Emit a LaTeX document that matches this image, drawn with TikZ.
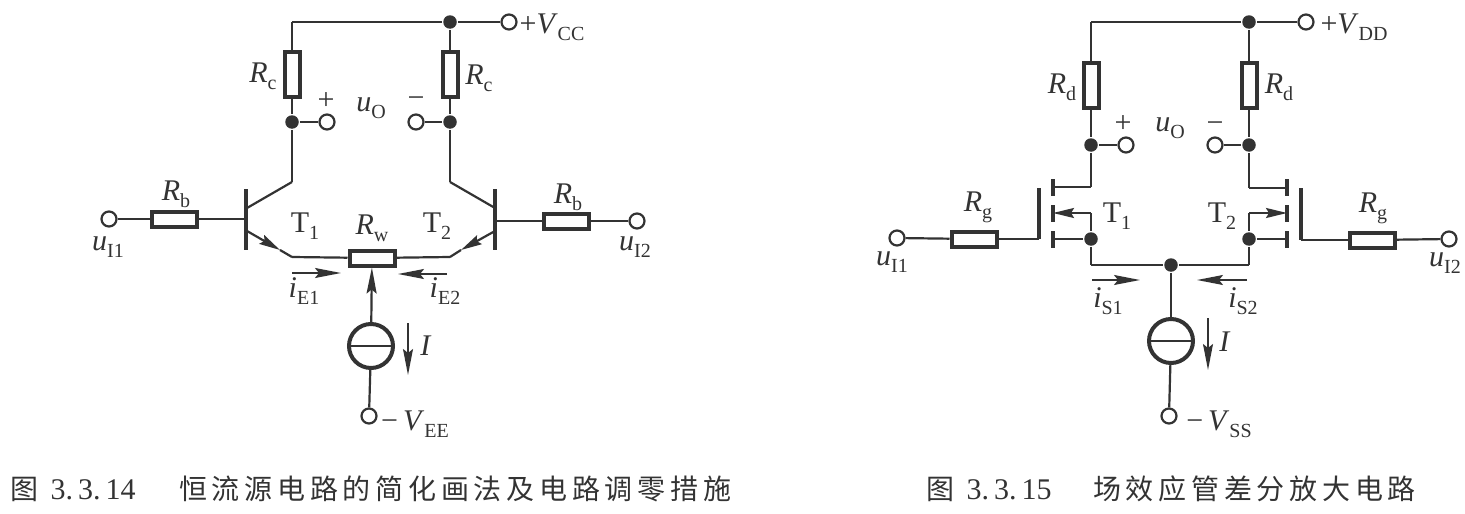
\documentclass[tikz,border=0pt]{standalone}
\usepackage{fontspec}
\setmainfont{Liberation Serif}
\newfontfamily\cjk[LetterSpace=17]{Noto Sans CJK SC}
\usetikzlibrary{arrows.meta}
\definecolor{ink}{gray}{0.2}
\newcommand{\vsub}[2]{\textit{#1}\raisebox{-0.5ex}{\fontsize{20}{21}\selectfont #2}}
\newcommand{\tsub}[1]{T\raisebox{-0.5ex}{\fontsize{20}{21}\selectfont #1}}
\tikzset{term/.style = {shape = circle,
                                    color = ink,
                                    fill = white,
                                    inner sep=0pt,
                                    line width=2.2pt,
                                    minimum size = 15pt,
                                    draw},
         jdot/.style = {shape = circle,
                                    fill = ink,
                                    inner sep=0pt,
                                    minimum size = 13.5pt},
         resv/.style = {shape = rectangle,
                                    color = ink,
                                    inner sep=0pt,
                                    line width=4pt,
                                    minimum width = 15pt,
                                    minimum height = 45pt,
                                    draw},
         resh/.style = {resv,
                                    minimum width = 45pt,
                                    minimum height = 15pt},
         isrc/.style = {shape = circle,
                                    color = ink,
                                    inner sep=0pt,
                                    line width=4pt,
                                    minimum size = 44pt,
                                    draw},
         lbl/.style = {inner sep=0pt,
                                    text = ink,
                                    font=\fontsize{30}{32}\selectfont},
         captxt/.style = {inner sep=0pt,
                                    anchor = west,
                                    text = ink,
                                    font=\fontsize{30}{32}\selectfont},
         bar/.style = {line width=4pt},
         head/.style = {-{Stealth[length=26pt,width=10pt,inset=4pt]}},
         thead/.style = {-{Stealth[length=21pt,width=10pt,inset=3pt]}}}

\begin{document}
\begin{tikzpicture}[x=1pt,y=-1pt,line width=2.2pt,color=ink]
		\useasboundingbox (0,0) rectangle (1465,514);
		% left circuit
		\node[term] (vcc) at (509,22) {};
		\node[jdot] (jcc) at (450,22) {};
		\coordinate (topa) at (292,22);
		\node[resv] (rc1) at (292,74) {};
		\node[resv] (rc2) at (450,74) {};
		\node[jdot] (c1) at (292,122) {};
		\node[jdot] (c2) at (450,122) {};
		\node[term] (o1) at (327,122) {};
		\node[term] (o2) at (416,122) {};
		\coordinate (k1) at (292,182);
		\coordinate (k2) at (450,182);
		\coordinate (kb1) at (247,208);
		\coordinate (kb2) at (495,208);
		\coordinate (e1) at (247,231);
		\coordinate (e2) at (495,231);
		\coordinate (em1) at (280,250);
		\coordinate (em2) at (461,250);
		\coordinate (f1) at (292,257);
		\coordinate (f2) at (450,257);
		\coordinate (bt1) at (246,189);
		\coordinate (bb1) at (246,250);
		\coordinate (bt2) at (495,189);
		\coordinate (bb2) at (495,250);
		\coordinate (g1) at (246,219);
		\coordinate (g2) at (495,221);
		\node[term] (u1) at (109,219) {};
		\node[term] (u2) at (637,221) {};
		\node[resh] (rb1) at (174,219) {};
		\node[resh] (rb2) at (566,221) {};
		\node[resh] (rw) at (372,258) {};
		\node[isrc] (src) at (371,346) {};
		\node[term] (vee) at (369,416) {};
		\coordinate (ia) at (408,323);
		\coordinate (ib) at (408,375);
		\coordinate (ie1a) at (292,273);
		\coordinate (ie1b) at (341,273);
		\coordinate (ie2a) at (447,274);
		\coordinate (ie2b) at (398,274);
		\path (vcc) edge (jcc);
		\path (jcc) edge (topa);
		\path (topa) edge (rc1);
		\path (jcc) edge (rc2);
		\path (rc1) edge (c1);
		\path (rc2) edge (c2);
		\path (c1) edge (o1);
		\path (c2) edge (o2);
		\path (c1) edge (k1);
		\path (c2) edge (k2);
		\path (k1) edge (kb1);
		\path (k2) edge (kb2);
		\path[thead] (e1) edge (em1);
		\path[thead] (e2) edge (em2);
		\path (em1) edge (f1);
		\path (em2) edge (f2);
		\path (f1) edge (rw);
		\path (f2) edge (rw);
		\path[bar] (bt1) edge (bb1);
		\path[bar] (bt2) edge (bb2);
		\path (u1) edge (rb1);
		\path (rb1) edge (g1);
		\path (u2) edge (rb2);
		\path (rb2) edge (g2);
		\path[head] (src) edge (rw);
		\path (src) edge (vee);
		\path (src.west) edge (src.east);
		\path[head,line width=1.6pt] (ia) edge (ib);
		\path[head,line width=1.6pt] (ie1a) edge (ie1b);
		\path[head,line width=1.6pt] (ie2a) edge (ie2b);
		\node[lbl] (lcc) at (552,27) {+\vsub{V}{CC}};
		\node[lbl] (lrc1) at (263,76) {\vsub{R}{c}};
		\node[lbl] (lrc2) at (479,78) {\vsub{R}{c}};
		\node[lbl] (lp1) at (326,101) {+};
		\node[lbl] (lm1) at (416,102) {−};
		\node[lbl] (luo1) at (371,108) {\vsub{u}{O}};
		\node[lbl] (lrb1) at (176,194) {\vsub{R}{b}};
		\node[lbl] (lrb2) at (568,197) {\vsub{R}{b}};
		\node[lbl] (lu1) at (108,247) {\vsub{u}{I1}};
		\node[lbl] (lu2) at (635,247) {\vsub{u}{I2}};
		\node[lbl] (lt1) at (305,226) {\tsub{1}};
		\node[lbl] (lt2) at (437,226) {\tsub{2}};
		\node[lbl] (lrw) at (372,228) {\vsub{R}{w}};
		\node[lbl] (lie1) at (304,291) {\vsub{i}{E1}};
		\node[lbl] (lie2) at (445,291) {\vsub{i}{E2}};
		\node[lbl] (li) at (426,346) {\textit{I}};
		\node[lbl] (lee) at (415,424) {−\,\vsub{V}{EE}};
		% right circuit
		\node[term] (vdd) at (1306,22) {};
		\node[jdot] (jdd) at (1249,22) {};
		\coordinate (topb) at (1091,22);
		\node[resv] (rd1) at (1091,85) {};
		\node[resv] (rd2) at (1249,85) {};
		\node[jdot] (d1) at (1091,145) {};
		\node[jdot] (d2) at (1249,145) {};
		\node[term] (p1) at (1126,145) {};
		\node[term] (p2) at (1215,145) {};
		\coordinate (dc1) at (1053,187);
		\coordinate (dk1) at (1091,187);
		\coordinate (dc2) at (1287,188);
		\coordinate (dk2) at (1249,188);
		\coordinate (sc1) at (1053,213);
		\coordinate (sk1) at (1091,213);
		\coordinate (sc2) at (1287,213);
		\coordinate (sk2) at (1249,213);
		\coordinate (lc1) at (1053,239);
		\coordinate (lc2) at (1287,239);
		\node[jdot] (s1) at (1091,239) {};
		\node[jdot] (s2) at (1249,239) {};
		\coordinate (m1) at (1091,265);
		\coordinate (m2) at (1249,265);
		\node[jdot] (jm) at (1171,265) {};
		\coordinate (ca1) at (1053,179);
		\coordinate (ca2) at (1053,196);
		\coordinate (cb1) at (1053,205);
		\coordinate (cb2) at (1053,222);
		\coordinate (cc1) at (1053,231);
		\coordinate (cc2) at (1053,248);
		\coordinate (da1) at (1287,179);
		\coordinate (da2) at (1287,196);
		\coordinate (db1) at (1287,205);
		\coordinate (db2) at (1287,222);
		\coordinate (dc3) at (1287,231);
		\coordinate (dc4) at (1287,248);
		\coordinate (gt1) at (1039,188);
		\coordinate (gb1) at (1039,239);
		\coordinate (gt2) at (1301,188);
		\coordinate (gb2) at (1301,240);
		\node[term] (v1) at (897,238) {};
		\node[term] (v2) at (1449,239) {};
		\node[resh] (rg1) at (974,239) {};
		\node[resh] (rg2) at (1372,240) {};
		\node[isrc] (srd) at (1171,341) {};
		\node[term] (vss) at (1169,416) {};
		\coordinate (ja) at (1208,318);
		\coordinate (jb) at (1208,370);
		\coordinate (is1a) at (1092,280);
		\coordinate (is1b) at (1140,280);
		\coordinate (is2a) at (1247,280);
		\coordinate (is2b) at (1197,280);
		\path (vdd) edge (jdd);
		\path (jdd) edge (topb);
		\path (topb) edge (rd1);
		\path (jdd) edge (rd2);
		\path (rd1) edge (d1);
		\path (rd2) edge (d2);
		\path (d1) edge (p1);
		\path (d2) edge (p2);
		\path (d1) edge (dk1);
		\path (d2) edge (dk2);
		\path (dk1) edge (dc1);
		\path (dk2) edge (dc2);
		\path[thead] (sk1) edge (sc1);
		\path[thead] (sk2) edge (sc2);
		\path (sk1) edge (s1);
		\path (sk2) edge (s2);
		\path (s1) edge (lc1);
		\path (s2) edge (lc2);
		\path (s1) edge (m1);
		\path (s2) edge (m2);
		\path (m1) edge (jm);
		\path (m2) edge (jm);
		\path[bar] (ca1) edge (ca2);
		\path[bar] (cb1) edge (cb2);
		\path[bar] (cc1) edge (cc2);
		\path[bar] (da1) edge (da2);
		\path[bar] (db1) edge (db2);
		\path[bar] (dc3) edge (dc4);
		\path[bar] (gt1) edge (gb1);
		\path[bar] (gt2) edge (gb2);
		\path (v1) edge (rg1);
		\path (rg1) edge (gb1);
		\path (v2) edge (rg2);
		\path (rg2) edge (gb2);
		\path (jm) edge (srd);
		\path (srd) edge (vss);
		\path (srd.west) edge (srd.east);
		\path[head,line width=1.6pt] (ja) edge (jb);
		\path[head,line width=1.6pt] (is1a) edge (is1b);
		\path[head,line width=1.6pt] (is2a) edge (is2b);
		\node[lbl] (ldd) at (1354,27) {+\vsub{V}{DD}};
		\node[lbl] (lrd1) at (1062,87) {\vsub{R}{d}};
		\node[lbl] (lrd2) at (1279,87) {\vsub{R}{d}};
		\node[lbl] (lp2) at (1123,124) {+};
		\node[lbl] (lm2) at (1215,127) {−};
		\node[lbl] (luo2) at (1170,128) {\vsub{u}{O}};
		\node[lbl] (lrg1) at (978,207) {\vsub{R}{g}};
		\node[lbl] (lrg2) at (1373,208) {\vsub{R}{g}};
		\node[lbl] (lv1) at (892,262) {\vsub{u}{I1}};
		\node[lbl] (lv2) at (1445,263) {\vsub{u}{I2}};
		\node[lbl] (lt3) at (1117,216) {\tsub{1}};
		\node[lbl] (lt4) at (1222,216) {\tsub{2}};
		\node[lbl] (lis1) at (1108,301) {\vsub{i}{S1}};
		\node[lbl] (lis2) at (1243,301) {\vsub{i}{S2}};
		\node[lbl] (lj) at (1225,342) {\textit{I}};
		\node[lbl] (lss) at (1219,424) {−\,\vsub{V}{SS}};
		% captions
		\node[captxt] (cap1) at (9,489) {{\cjk\fontsize{28}{32}\selectfont 图}\ \,3.\,3.\,14};
		\node[captxt] (cap1b) at (178,489) {\cjk\fontsize{28}{32}\selectfont 恒流源电路的简化画法及电路调零措施};
		\node[captxt] (cap2) at (925,489) {{\cjk\fontsize{28}{32}\selectfont 图}\ \,3.\,3.\,15};
		\node[captxt] (cap2b) at (1092,489) {\cjk\fontsize{28}{32}\selectfont 场效应管差分放大电路};
	\end{tikzpicture}
\end{document}
